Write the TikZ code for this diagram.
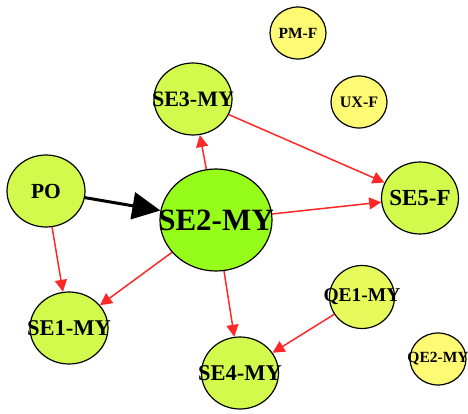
\documentclass[tikz,border=0pt]{standalone}
\usepackage{fontspec}
\setmainfont{Liberation Serif}
\usetikzlibrary{shapes.geometric,arrows.meta}

\definecolor{hubgreen}{RGB}{150,252,26}
\definecolor{limefill}{RGB}{210,250,76}
\definecolor{palelime}{RGB}{230,250,92}
\definecolor{softyellow}{RGB}{255,250,115}
\definecolor{edgered}{RGB}{255,40,40}

\tikzset{
  vertex/.style n args={3}{ellipse, draw=black, line width=1.2pt, inner sep=0pt,
    minimum width=#1pt, minimum height=#2pt, font=\bfseries\fontsize{#3}{#3}\selectfont},
  rededge/.style={draw=edgered, line width=1.5pt,
    -{Triangle[length=12pt,width=12pt]}},
  mainedge/.style={draw=black, line width=3pt,
    -{Triangle[length=28pt,width=27pt]}},
}
\newcommand{\nlabel}[1]{\makebox[0pt][c]{#1}}

\begin{document}
\begin{tikzpicture}[x=1pt,y=-1pt]
  \useasboundingbox (0,0) rectangle (468,414);

  \node[vertex={56}{52}{15.5}, fill=softyellow] (pmf) at (298,33) {\nlabel{PM-F}};
  \node[vertex={56}{52}{16}, fill=softyellow] (uxf) at (359,102) {\nlabel{UX-F}};
  \node[vertex={78}{72}{22}, fill=limefill] (se3) at (193,99) {\nlabel{SE3-MY}};
  \node[vertex={78}{72}{21.5}, fill=limefill] (po) at (46,191) {\nlabel{PO}};
  \node[vertex={77}{72}{23}, fill=limefill] (se5) at (420,198) {\nlabel{SE5-F}};
  \node[vertex={112}{102}{31}, fill=hubgreen] (se2) at (216,220) {\nlabel{SE2-MY}};
  \node[vertex={78}{72}{22.5}, fill=limefill] (se1) at (69,328) {\nlabel{SE1-MY}};
  \node[vertex={77}{72}{22.5}, fill=limefill] (se4) at (240,373) {\nlabel{SE4-MY}};
  \node[vertex={65}{63}{19.5}, fill=palelime] (qe1) at (362,297) {\nlabel{QE1-MY}};
  \node[vertex={56}{52}{15.5}, fill=softyellow] (qe2) at (438,359) {\nlabel{QE2-MY}};

  \draw[rededge] (se2) -- (se3);
  \draw[rededge] (se3) -- (se5);
  \draw[rededge] (se2) -- (se5);
  \draw[rededge] (po) -- (se1);
  \draw[rededge] (se2) -- (se1);
  \draw[rededge] (se2) -- (se4);
  \draw[rededge] (qe1) -- (se4);
  \draw[mainedge] (po) -- (se2);
\end{tikzpicture}
\end{document}
